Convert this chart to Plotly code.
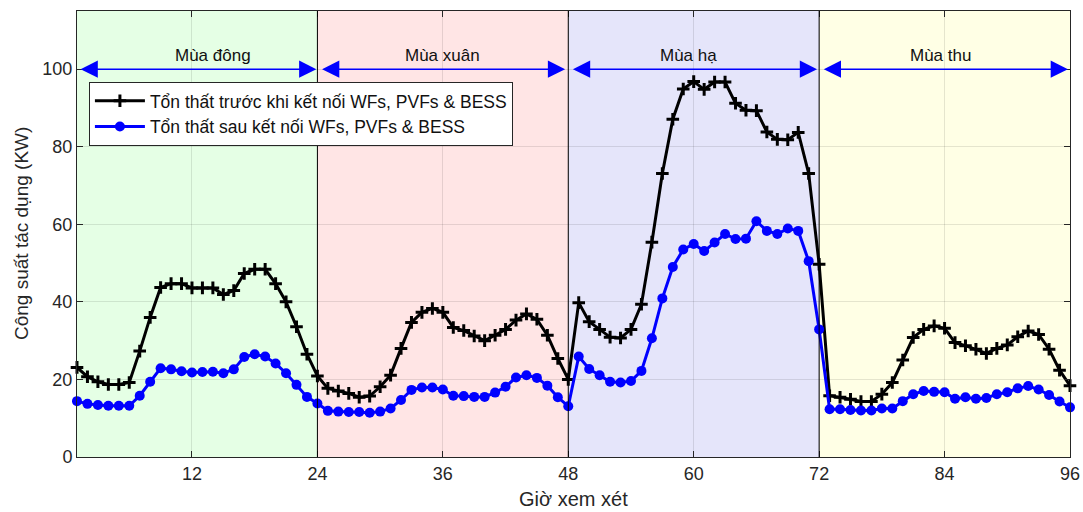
import plotly.graph_objects as go

hours = list(range(1, 97))

loss_before = [
    23.1, 20.7, 19.4, 18.7, 18.7, 19.2, 27.3, 36.0, 43.7, 44.7, 44.7, 43.6,
    43.6, 43.6, 41.9, 42.9, 47.3, 48.4, 48.4, 44.7, 40.0, 33.6, 26.5, 20.9,
    17.7, 17.0, 16.4, 15.4, 15.7, 18.1, 21.1, 28.0, 34.7, 37.3, 38.3, 37.3,
    33.4, 32.6, 31.2, 30.0, 31.4, 32.9, 35.3, 36.9, 35.5, 31.4, 25.4, 20.0,
    39.8, 34.9, 32.9, 30.9, 30.7, 32.9, 39.4, 55.4, 73.1, 87.1, 94.9, 96.8,
    94.8, 96.7, 96.7, 91.2, 89.4, 89.3, 83.8, 81.9, 81.8, 83.7, 73.1, 49.7,
    15.8, 15.4, 14.9, 14.3, 14.3, 16.2, 19.2, 25.0, 30.8, 32.9, 33.8, 33.2,
    29.5, 28.7, 27.8, 26.7, 28.0, 28.9, 31.0, 32.5, 31.6, 27.8, 22.4, 18.4,
]

loss_after = [
    14.4, 13.7, 13.4, 13.2, 13.2, 13.2, 15.8, 19.4, 22.9, 22.6, 22.1, 21.8,
    21.9, 22.0, 21.6, 22.6, 25.8, 26.5, 25.9, 24.1, 21.6, 18.6, 15.5, 13.8,
    11.9, 11.7, 11.6, 11.6, 11.4, 11.7, 12.5, 14.7, 17.3, 17.9, 17.9, 17.4,
    15.8, 15.7, 15.5, 15.5, 16.6, 18.1, 20.5, 21.1, 20.4, 18.4, 15.4, 13.1,
    25.9, 22.7, 21.1, 19.4, 19.2, 19.6, 22.2, 30.6, 40.9, 49.0, 53.5, 54.9,
    53.1, 55.3, 57.5, 56.2, 56.3, 60.8, 58.3, 57.5, 58.9, 58.3, 50.5, 32.9,
    12.3, 12.3, 12.1, 12.0, 12.0, 12.5, 12.5, 14.4, 16.2, 17.0, 16.8, 16.7,
    15.0, 15.4, 15.0, 15.2, 16.2, 16.7, 17.7, 18.3, 17.4, 16.0, 14.3, 12.8,
]

season_names = ["Mùa đông", "Mùa xuân", "Mùa hạ", "Mùa thu"]
season_bounds = [(1, 24), (24, 48), (48, 72), (72, 96)]
season_colors = ["#E5FFE5", "#FFE5E5", "#E5E5FA", "#FFFFE5"]
season_label_x = [14, 36, 59.5, 83.6]
x_ticks = [12, 24, 36, 48, 60, 72, 84, 96]
y_ticks = [0, 20, 40, 60, 80, 100]

FONT = "Liberation Sans, Arial, sans-serif"

fig = go.Figure()

fig.add_trace(go.Scatter(
    x=hours, y=loss_before, mode="lines+markers",
    name="Tổn thất trước khi kết nối WFs, PVFs & BESS",
    line=dict(color="black", width=3),
    marker=dict(symbol="cross-thin", size=9, line=dict(color="black", width=3)),
    cliponaxis=False,
))
fig.add_trace(go.Scatter(
    x=hours, y=loss_after, mode="lines+markers",
    name="Tổn thất sau kết nối WFs, PVFs & BESS",
    line=dict(color="#0000FF", width=3),
    marker=dict(symbol="circle", size=10, color="#0000FF"),
    cliponaxis=False,
))

shapes = []
for (x0, x1), col in zip(season_bounds, season_colors):
    shapes.append(dict(type="rect", xref="x", yref="paper", x0=x0, x1=x1,
                       y0=0, y1=1, fillcolor=col, line=dict(width=0), layer="below"))
for x0, _ in season_bounds[1:]:
    shapes.append(dict(type="line", xref="x", yref="paper", x0=x0, x1=x0,
                       y0=0, y1=1, line=dict(color="black", width=1), layer="above"))

annotations = []
arrow_spans = [(1.2, 23.9), (24.3, 47.7), (48.3, 71.8), (72.3, 95.8)]
for (a0, a1), name, lx in zip(arrow_spans, season_names, season_label_x):
    annotations.append(dict(
        x=a1, y=100, ax=a0, ay=100, xref="x", yref="y", axref="x", ayref="y",
        showarrow=True, arrowhead=2, startarrowhead=2, arrowside="end+start",
        arrowsize=2.3, startarrowsize=2.3, arrowwidth=1.5, arrowcolor="#0000FF",
        text="",
    ))
    annotations.append(dict(
        x=lx, y=103.6, xref="x", yref="y", text=name, showarrow=False,
        font=dict(family=FONT, size=17, color="#111111"),
    ))

# axis titles
annotations.append(dict(
    x=0.5, y=0, xref="paper", yref="paper", yanchor="middle", yshift=-42,
    text="Giờ xem xét", showarrow=False,
    font=dict(family=FONT, size=20, color="#262626"),
))
annotations.append(dict(
    x=0, y=0.5, xref="paper", yref="paper", xanchor="center", xshift=-56,
    text="Công suất tác dụng (KW)", textangle=-90, showarrow=False,
    font=dict(family=FONT, size=19, color="#262626"),
))

fig.update_layout(
    width=1083, height=512,
    margin=dict(l=77, r=13, t=11, b=55),
    paper_bgcolor="white", plot_bgcolor="white",
    font=dict(family=FONT, size=18, color="#262626"),
    shapes=shapes, annotations=annotations,
    showlegend=True,
    legend=dict(
        x=0.012, y=0.841, xanchor="left", yanchor="top",
        bgcolor="white", bordercolor="#262626", borderwidth=1,
        font=dict(family=FONT, size=17.5, color="#111111"),
        tracegroupgap=0, itemwidth=50,
    ),
    xaxis=dict(
        range=[1, 96], tickvals=x_ticks, ticks="inside", ticklen=6,
        tickcolor="#262626", showline=True, linecolor="#262626", linewidth=1,
        mirror="ticks", showgrid=True, gridcolor="rgba(0,0,0,0.1)", zeroline=False,
        automargin=False, tickfont=dict(size=18),
    ),
    yaxis=dict(
        range=[0, 115], tickvals=y_ticks, ticks="inside", ticklen=6,
        tickcolor="#262626", showline=True, linecolor="#262626", linewidth=1,
        mirror="ticks", showgrid=True, gridcolor="rgba(0,0,0,0.1)", zeroline=False,
        automargin=False, tickfont=dict(size=18),
    ),
)

fig.write_html("out.html")
